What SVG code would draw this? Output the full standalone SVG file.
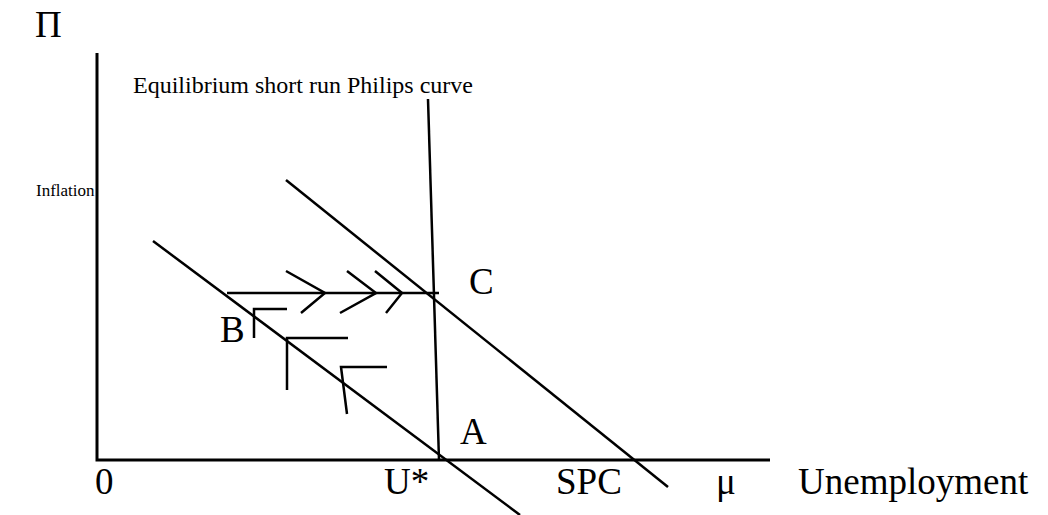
<svg xmlns="http://www.w3.org/2000/svg" width="1048" height="515" viewBox="0 0 1048 515">
<style>
.ln{stroke:#000;stroke-width:2.5;fill:none;stroke-linecap:butt;stroke-linejoin:miter}
.ax{stroke:#000;stroke-width:3;fill:none}
.big{font-family:"Liberation Serif","Times New Roman",serif;font-size:37px;fill:#000}
.sm{font-family:"Liberation Serif","Times New Roman",serif;font-size:24px;fill:#000}
.xs{font-family:"Liberation Serif","Times New Roman",serif;font-size:17px;fill:#000}
</style>
<rect width="1048" height="515" fill="#fff"/>
<g id="axes">
<polyline class="ax" points="97,53 97,460 770,460"/>
</g>
<g id="connectors">
<line id="vertical-curve" class="ln" x1="428" y1="99" x2="439" y2="460"/>
<line id="spc-low" class="ln" x1="153" y1="241" x2="520" y2="515"/>
<line id="spc-high" class="ln" x1="286" y1="180" x2="668" y2="487"/>
<line id="path-c" class="ln" x1="227" y1="293" x2="439" y2="293"/>
<polyline class="ln" points="286,271 325,293 301,313"/>
<polyline class="ln" points="347,271 376,293 340,313"/>
<polyline class="ln" points="375,271 402,293 386,313"/>
<polyline class="ln" points="254,338 254,309 287,309"/>
<polyline class="ln" points="287,390 287,338 348,338"/>
<polyline class="ln" points="347,414 341,367 387,367"/>
</g>
<g id="labels">
<text class="big" x="35" y="37">Π</text>
<text class="sm" x="133" y="93">Equilibrium short run Philips curve</text>
<text class="xs" x="36" y="196">Inflation</text>
<text class="big" x="469" y="294">C</text>
<text class="big" x="220" y="342">B</text>
<text class="big" x="460" y="444">A</text>
<text class="big" x="95" y="494">0</text>
<text class="big" x="384" y="494">U*</text>
<text class="big" x="556" y="494">SPC</text>
<text class="big" x="716" y="494">μ</text>
<text class="big" x="798" y="494">Unemployment</text>
</g>
</svg>
